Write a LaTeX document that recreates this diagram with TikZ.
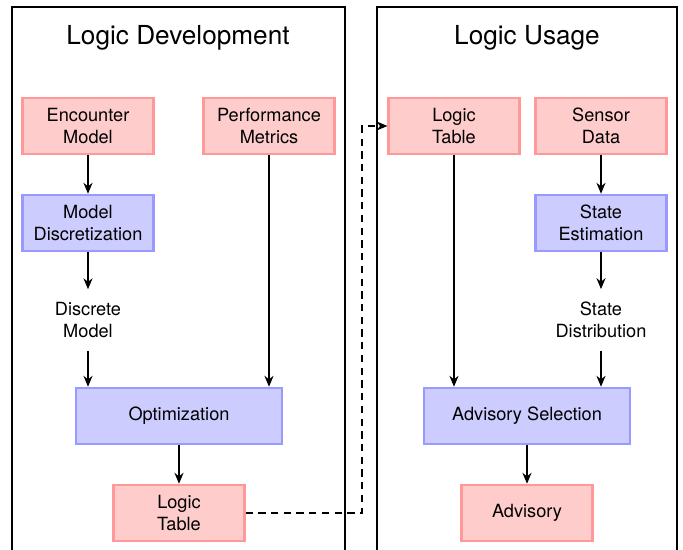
\documentclass[tikz,border=0pt]{standalone}
\usepackage{fontspec}
\setmainfont{TeX Gyre Heros}
\usetikzlibrary{arrows.meta}

\tikzset{
  inbox/.style={draw=red!40, fill=red!20, line width=1.2pt, align=center,
    minimum width=72pt, minimum height=31pt, inner sep=2pt},
  procbox/.style={draw=blue!40, fill=blue!20, line width=1.2pt, align=center,
    minimum width=72pt, minimum height=31pt, inner sep=2pt},
  datalabel/.style={align=center, inner sep=7pt},
  flow/.style={thick, -{Stealth[length=6pt, width=5pt]}},
  frame/.style={thick}
}

\begin{document}
\begin{tikzpicture}[x=0.55pt, y=-0.55pt]
  \useasboundingbox (0,0) rectangle (683,550);

  %Logic development
  \draw[frame] (12,7) rectangle (345,580);
  \node[font=\Large] (devtitle) at (178,38) {Logic Development};

  \node[inbox] (encounter) at (88,126) {Encounter\\Model};
  \node[inbox] (metrics) at (269,126) {Performance\\Metrics};
  \node[procbox] (discretize) at (88,223) {Model\\Discretization};
  \node[datalabel] (discrete) at (88,320) {Discrete\\Model};
  \node[procbox, minimum width=113pt] (optimize) at (179,416) {Optimization};
  \node[inbox] (devtable) at (179,513) {Logic\\Table};

  \draw[flow] (encounter) -- (discretize);
  \draw[flow] (discretize) -- (discrete);
  \draw[flow] (discrete) -- (discrete |- optimize.north);
  \draw[flow] (metrics) -- (metrics |- optimize.north);
  \draw[flow] (optimize) -- (devtable);

  %Logic usage
  \draw[frame] (377,7) rectangle (677,580);
  \node[font=\Large] (usetitle) at (527,38) {Logic Usage};

  \node[inbox] (usetable) at (454,126) {Logic\\Table};
  \node[inbox] (sensor) at (601,126) {Sensor\\Data};
  \node[procbox] (estimate) at (601,223) {State\\Estimation};
  \node[datalabel] (statedist) at (601,320) {State\\Distribution};
  \node[procbox, minimum width=113pt] (select) at (527,416) {Advisory Selection};
  \node[inbox] (advisory) at (527,513) {Advisory};

  \draw[flow] (usetable) -- (usetable |- select.north);
  \draw[flow] (sensor) -- (estimate);
  \draw[flow] (estimate) -- (statedist);
  \draw[flow] (statedist) -- (statedist |- select.north);
  \draw[flow] (select) -- (advisory);

  %table handed over
  \coordinate (handover) at (362,0);
  \draw[flow, dash pattern=on 4pt off 3pt] (devtable) -| (handover |- usetable) -- (usetable);
\end{tikzpicture}
\end{document}
